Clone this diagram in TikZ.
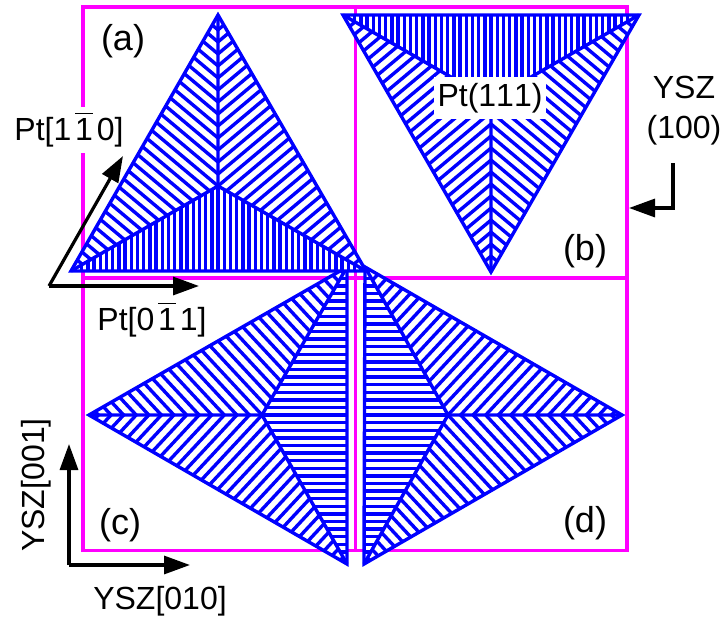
\documentclass[tikz,border=0pt]{standalone}
\usepackage{fontspec}
\setmainfont[Kerning=Off]{Liberation Sans}
\usetikzlibrary{arrows.meta}
\definecolor{framepink}{RGB}{255,0,255}
\definecolor{hatchblue}{RGB}{0,0,255}
\tikzset{
  frameline/.style={draw=framepink,line width=3.2pt},
  edgeline/.style={draw=hatchblue,line width=3.4pt,line join=miter},
  hatchline/.style={draw=hatchblue,line width=3.4pt},
  axisline/.style={draw=black,line width=3.2pt,-{Triangle[length=26pt,width=18pt]}},
  axislabel/.style={font=\fontsize{32}{40}\selectfont,text=black,inner sep=0pt},
  panellabel/.style={font=\fontsize{36}{40}\selectfont,text=black,inner sep=0pt},
  blanklabel/.style={axislabel,fill=white,inner xsep=4pt,inner ysep=6pt},
}
% one blade of a hatched triangle: corner, corner, centre, angle, period
\newcommand{\hatchblade}[5]{
  \begin{scope}
    \clip (#1) -- (#2) -- (#3) -- cycle;
    \begin{scope}[shift={(#3)},rotate=#4]
      \foreach \n in {-50,...,50} {
        \draw[hatchline] (-340,\n*#5) -- (340,\n*#5);
      }
    \end{scope}
  \end{scope}
}
% a whole triangle cut into three blades
\newcommand{\hatchtriangle}[9]{
  \fill[white] (#1) -- (#2) -- (#3) -- cycle;
  \hatchblade{#1}{#2}{#4}{#5}{#8}
  \hatchblade{#2}{#3}{#4}{#6}{#8}
  \hatchblade{#3}{#1}{#4}{#7}{#9}
  \draw[edgeline] (#1) -- (#2) -- (#3) -- cycle;
  \draw[edgeline] (#1) -- (#4) (#2) -- (#4) (#3) -- (#4);
}
\newcommand{\barone}{\leavevmode\rlap{\rule[0.84em]{0.56em}{0.045em}}1}
\begin{document}
\begin{tikzpicture}[x=1pt,y=-1pt]
  \useasboundingbox (0,0) rectangle (723,621);
  \fill[white] (0,0) rectangle (723,621);
  % frames
  \draw[frameline] (83,7) rectangle (355.5,278);
  \draw[frameline] (355.5,7) rectangle (627,278);
  \draw[frameline] (83,278) rectangle (355.5,550.5);
  \draw[frameline] (355.5,278) rectangle (627,550.5);
  % triangle corners
  \coordinate (cl) at (89,415);
  \coordinate (ct) at (347,267);
  \coordinate (cb) at (347,564);
  \coordinate (cm) at (262,415);
  \coordinate (dr) at (622,415);
  \coordinate (dt) at (365,267);
  \coordinate (db) at (364,564);
  \coordinate (dm) at (448,415);
  \coordinate (at) at (218,15);
  \coordinate (al) at (71,271);
  \coordinate (ar) at (366,271);
  \coordinate (am) at (218,186);
  \coordinate (bl) at (343,15);
  \coordinate (br) at (639,15);
  \coordinate (bb) at (491,272);
  \coordinate (bm) at (491,100);
  % the four triangles
  \hatchtriangle{cb}{cl}{ct}{cm}{47}{-47}{0}{9.2}{7.6}
  \hatchtriangle{db}{dr}{dt}{dm}{-47}{47}{0}{9.2}{7.6}
  \hatchtriangle{ar}{at}{al}{am}{40}{-40}{90}{9.2}{6.2}
  \hatchtriangle{br}{bb}{bl}{bm}{-40}{40}{90}{9.2}{6.2}
  % arrows
  \coordinate (ao) at (49,286);
  \coordinate (au) at (123,156);
  \coordinate (ax) at (199,286);
  \coordinate (bs) at (673,163);
  \coordinate (bk) at (673,208);
  \coordinate (bx) at (629,208);
  \coordinate (co) at (69,565);
  \coordinate (cu) at (69,444);
  \coordinate (cx) at (190,565);
  \draw[axisline] (ao) -- (au);
  \draw[axisline] (ao) -- (ax);
  \draw[axisline] (bs) -- (bk) -- (bx);
  \draw[axisline] (co) -- (cu);
  \draw[axisline] (co) -- (cx);
  % labels
  \node[panellabel] (labela) at (123,41) {(a)};
  \node[panellabel] (labelb) at (585,251) {(b)};
  \node[panellabel] (labelc) at (120,525) {(c)};
  \node[panellabel] (labeld) at (585,523) {(d)};
  \node[blanklabel] (ptupper) at (69,130) {Pt[1\kern.12em\barone\kern.12em0]};
  \node[blanklabel] (ptlower) at (152,320) {Pt[0\kern.12em\barone\kern.12em1]};
  \node[blanklabel] (ptface) at (490,98) {Pt(111)};
  \node[axislabel,align=center] (yszface) at (684,111) {YSZ\\(100)};
  \node[axislabel,rotate=90] (yszup) at (36,485) {YSZ[001]};
  \node[axislabel] (yszright) at (160,601) {YSZ[010]};
\end{tikzpicture}
\end{document}
